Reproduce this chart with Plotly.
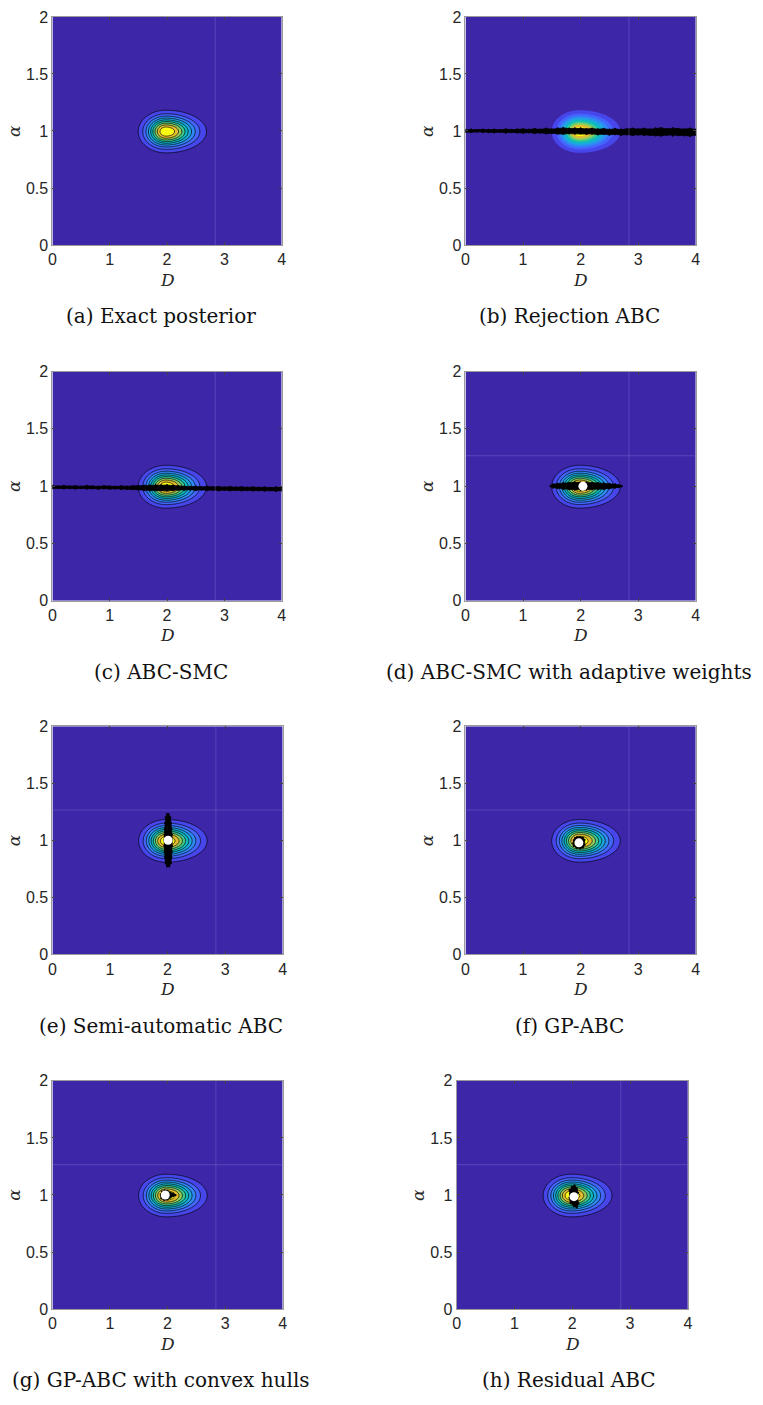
import numpy as np
import plotly.graph_objects as go

W, H = 763, 1405

# ---------------- data ----------------
D_TICKS = [0, 1, 2, 3, 4]
A_TICKS = [0, 0.5, 1, 1.5, 2]
A_TICKTEXT = ["0", "0.5", "1", "1.5", "2"]

CAPTIONS = ["(a) Exact posterior", "(b) Rejection ABC", "(c) ABC-SMC",
            "(d) ABC-SMC with adaptive weights", "(e) Semi-automatic ABC",
            "(f) GP-ABC", "(g) GP-ABC with convex hulls", "(h) Residual ABC"]

# exact posterior: mode and spreads
POST_D_MODE = 1.98
POST_D_SD_LEFT = 0.225
POST_D_SD_RIGHT = 0.33
POST_A_MODE = 0.995
POST_A_SD = 0.087
LEVEL_START, LEVEL_END, LEVEL_STEP = 0.1, 0.9, 0.1

# (b) rejection ABC sample band
B_D = [0.0, 0.1, 0.2, 0.3, 0.4, 0.5, 0.6, 0.7, 0.8, 0.9, 1.0, 1.1, 1.2, 1.3, 1.4, 1.5, 1.6, 1.7,
       1.8, 1.9, 2.0, 2.1, 2.2, 2.3, 2.4, 2.5, 2.6, 2.7, 2.8, 2.9, 3.0, 3.1, 3.2, 3.3, 3.4, 3.5,
       3.6, 3.7, 3.8, 3.9, 4.0]
B_TOP = [1.010, 1.012, 1.008, 1.013, 1.010, 1.014, 1.009, 1.016, 1.011, 1.015, 1.017, 1.012,
         1.019, 1.014, 1.021, 1.016, 1.023, 1.027, 1.021, 1.025, 1.023, 1.018, 1.022, 1.015,
         1.020, 1.013, 1.019, 1.012, 1.017, 1.022, 1.016, 1.021, 1.015, 1.023, 1.027, 1.018,
         1.025, 1.020, 1.016, 1.022, 1.014]
B_BOT = [0.991, 0.989, 0.993, 0.988, 0.990, 0.987, 0.991, 0.985, 0.988, 0.986, 0.983, 0.987,
         0.981, 0.985, 0.978, 0.981, 0.975, 0.973, 0.978, 0.975, 0.977, 0.973, 0.975, 0.969,
         0.973, 0.967, 0.971, 0.965, 0.969, 0.963, 0.968, 0.963, 0.966, 0.961, 0.958, 0.965,
         0.959, 0.963, 0.961, 0.957, 0.965]

# (c) ABC-SMC sample band
C_D = B_D
C_TOP = [1.003, 1.000, 1.004, 0.999, 1.002, 0.998, 1.003, 1.000, 0.997, 1.002, 0.999, 0.996,
         1.001, 0.998, 1.002, 1.004, 1.006, 1.008, 1.010, 1.008, 1.009, 1.006, 1.002, 0.998,
         0.994, 0.998, 0.993, 0.996, 0.992, 0.995, 0.991, 0.994, 0.990, 0.993, 0.989, 0.992,
         0.988, 0.991, 0.987, 0.990, 0.988]
C_BOT = [0.981, 0.983, 0.979, 0.982, 0.978, 0.981, 0.977, 0.980, 0.976, 0.979, 0.975, 0.978,
         0.974, 0.976, 0.972, 0.969, 0.965, 0.963, 0.961, 0.962, 0.963, 0.965, 0.968, 0.966,
         0.969, 0.965, 0.968, 0.964, 0.967, 0.963, 0.966, 0.962, 0.965, 0.961, 0.964, 0.960,
         0.963, 0.959, 0.962, 0.958, 0.961]

# (d) ABC-SMC adaptive weights cloud
D_D = [1.48, 1.52, 1.60, 1.70, 1.80, 1.90, 2.00, 2.10, 2.20, 2.30, 2.40, 2.50, 2.60, 2.66, 2.71]
D_TOP = [1.004, 1.016, 1.021, 1.027, 1.029, 1.033, 1.032, 1.034, 1.030, 1.028, 1.025, 1.020,
         1.016, 1.010, 1.003]
D_BOT = [0.996, 0.987, 0.981, 0.976, 0.972, 0.969, 0.967, 0.968, 0.970, 0.973, 0.975, 0.980,
         0.985, 0.990, 0.997]
D_BEST = (2.04, 1.00)

# (e) semi-automatic ABC cloud (vertical)
E_A = [0.77, 0.80, 0.85, 0.90, 0.95, 1.00, 1.05, 1.10, 1.15, 1.20, 1.23]
E_LEFT = [1.99, 1.965, 1.955, 1.948, 1.944, 1.940, 1.946, 1.950, 1.956, 1.966, 1.99]
E_RIGHT = [2.03, 2.058, 2.068, 2.076, 2.080, 2.082, 2.076, 2.070, 2.062, 2.050, 2.02]
E_BEST = (2.01, 1.00)

# (f) GP-ABC cloud
F_D = [1.90, 1.94, 1.99, 2.04, 2.07, 2.07, 2.04, 1.99, 1.93, 1.88, 1.87, 1.88]
F_A = [1.020, 1.028, 1.030, 1.024, 1.005, 0.960, 0.935, 0.928, 0.933, 0.950, 0.975, 1.000]
F_BEST = (1.97, 0.978)

# (g) GP-ABC with convex hulls cloud
G_D = [1.90, 1.95, 2.00, 2.05, 2.10, 2.14, 2.10, 2.05, 2.00, 1.94, 1.89, 1.88]
G_A = [1.030, 1.042, 1.038, 1.020, 1.012, 1.000, 0.990, 0.978, 0.960, 0.955, 0.970, 1.005]
G_BEST = (1.96, 1.00)

# (h) residual ABC cloud
H_D = [1.99, 2.04, 2.08, 2.10, 2.09, 2.11, 2.08, 2.03, 1.97, 1.95, 1.96, 1.95]
H_A = [1.070, 1.085, 1.060, 1.020, 0.975, 0.925, 0.890, 0.900, 0.930, 0.975, 1.010, 1.045]
H_BEST = (2.03, 0.985)

# faint rendering seams seen in the picture
SEAM_D = 2.84
SEAM_A = 1.265

# ---------------- styles ----------------
PARULA = ["#3E26A8", "#4746EB", "#4367FD", "#2F8AF5", "#1DA8DE", "#0CBBBE",
          "#40C98F", "#95CD58", "#E4BC2F", "#F9FB14"]
PARULA_SCALE = [[i / (len(PARULA) - 1), c] for i, c in enumerate(PARULA)]

# panel boxes in pixels: left, top, right, bottom
BOXES = [(49, 9, 281, 240), (467, 9, 700, 240),
         (49, 368, 281, 600), (467, 368, 700, 600),
         (49, 727, 282, 958), (467, 727, 700, 958),
         (49, 1086, 282, 1317), (458, 1086, 692, 1317)]
CAP_X = [159, 572]
SHOW_LINES = [True, False, True, True, True, True, True, True]
SHOW_HSEAM = [False, False, False, True, True, True, True, True]

TICK_FONT = dict(family="Liberation Sans, Arial, sans-serif", size=16, color="#262626")
SERIF = "DejaVu Serif, Liberation Serif, serif"

# ---------------- posterior surface ----------------
d_grid = np.linspace(0, 4, 401)
a_grid = np.linspace(0, 2, 201)
DD, AA = np.meshgrid(d_grid, a_grid)
sd_d = np.where(DD < POST_D_MODE, POST_D_SD_LEFT, POST_D_SD_RIGHT)
Z = np.exp(-0.5 * ((DD - POST_D_MODE) / sd_d) ** 2 - 0.5 * ((AA - POST_A_MODE) / POST_A_SD) ** 2)


def px(x):
    return x / W


def py(y):
    return 1 - y / H


fig = go.Figure()
annotations = []
shapes = []

for i, (l, t, r, b) in enumerate(BOXES):
    sfx = "" if i == 0 else str(i + 1)
    xa, ya = "x" + sfx, "y" + sfx
    fig.add_trace(go.Contour(
        x=d_grid, y=a_grid, z=Z, xaxis=xa, yaxis=ya,
        contours=dict(start=LEVEL_START, end=LEVEL_END, size=LEVEL_STEP,
                      coloring="fill", showlines=SHOW_LINES[i]),
        line=dict(color="black", width=0.7),
        colorscale=PARULA_SCALE, showscale=False, hoverinfo="skip"))
    axis_common = dict(showline=True, linecolor="#9a9a9a", linewidth=1, mirror="ticks",
                       ticks="inside", ticklen=3, tickcolor="#444444", tickwidth=1,
                       showgrid=False, zeroline=False, tickfont=TICK_FONT, fixedrange=True)
    fig.update_layout(**{
        "xaxis" + sfx: dict(domain=[px(l), px(r)], range=[0, 4], anchor=ya,
                            tickvals=D_TICKS, **axis_common),
        "yaxis" + sfx: dict(domain=[py(b), py(t)], range=[0, 2], anchor=xa,
                            tickvals=A_TICKS, ticktext=A_TICKTEXT, **axis_common),
    })
    # seams
    shapes.append(dict(type="line", xref=xa, yref=ya, x0=SEAM_D, x1=SEAM_D, y0=0, y1=2,
                       line=dict(color="rgba(140,130,220,0.35)", width=1), layer="above"))
    if SHOW_HSEAM[i]:
        shapes.append(dict(type="line", xref=xa, yref=ya, x0=0, x1=4, y0=SEAM_A, y1=SEAM_A,
                           line=dict(color="rgba(140,130,220,0.35)", width=1), layer="above"))
    # axis titles & captions
    cx = (l + r) / 2
    annotations.append(dict(text="<i>D</i>", x=px(cx), y=py(b + 35), xref="paper", yref="paper",
                            showarrow=False, font=dict(family=SERIF, size=17, color="#262626"),
                            xanchor="center", yanchor="middle"))
    annotations.append(dict(text="<i>α</i>", x=px(l - 39), y=py((t + b) / 2), xref="paper",
                            yref="paper", showarrow=False, textangle=-90,
                            font=dict(family=SERIF, size=17, color="#262626"),
                            xanchor="center", yanchor="middle"))
    annotations.append(dict(text=CAPTIONS[i], x=px(CAP_X[i % 2]), y=py(b + 72), xref="paper",
                            yref="paper", showarrow=False,
                            font=dict(family=SERIF, size=20, color="#111111"),
                            xanchor="center", yanchor="middle"))


def cloud(i, xs, ys):
    sfx = "" if i == 0 else str(i + 1)
    fig.add_trace(go.Scatter(x=xs, y=ys, xaxis="x" + sfx, yaxis="y" + sfx, mode="lines+markers",
                             fill="toself", fillcolor="black",
                             line=dict(color="black", width=0.8),
                             marker=dict(size=2, color="black"),
                             hoverinfo="skip", showlegend=False))


def best(i, pt):
    sfx = "" if i == 0 else str(i + 1)
    fig.add_trace(go.Scatter(x=[pt[0]], y=[pt[1]], xaxis="x" + sfx, yaxis="y" + sfx,
                             mode="markers", marker=dict(size=9, color="white"),
                             hoverinfo="skip", showlegend=False))


cloud(1, B_D + B_D[::-1], B_TOP + B_BOT[::-1])
cloud(2, C_D + C_D[::-1], C_TOP + C_BOT[::-1])
cloud(3, D_D + D_D[::-1], D_TOP + D_BOT[::-1])
best(3, D_BEST)
cloud(4, E_LEFT + E_RIGHT[::-1], E_A + E_A[::-1])
best(4, E_BEST)
cloud(5, F_D, F_A)
best(5, F_BEST)
cloud(6, G_D, G_A)
best(6, G_BEST)
cloud(7, H_D, H_A)
best(7, H_BEST)

fig.update_layout(width=W, height=H, margin=dict(l=0, r=0, t=0, b=0),
                  paper_bgcolor="white", plot_bgcolor="white", showlegend=False,
                  annotations=annotations, shapes=shapes)

fig.write_html("out.html", config={"displayModeBar": False},
               post_script="document.body.style.margin='0px';")
